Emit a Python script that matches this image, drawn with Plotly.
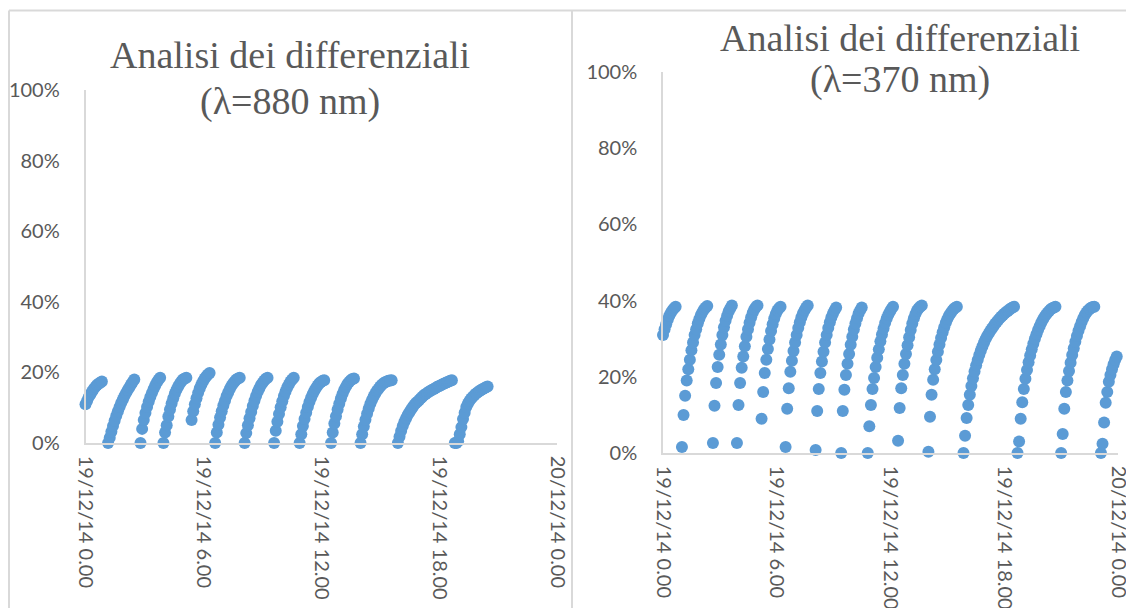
import plotly.graph_objects as go
import pandas as pd

BASE = pd.Timestamp("2014-12-19 00:00")
STEP_MIN = 5  # sampling interval of the instrument (minutes)

# ---- lambda = 880 nm : start minute of each cycle and its values (%)
starts_880 = [0, 69, 168, 238, 324, 396, 486, 576, 654, 750, 840, 954, 1128]
values_880 = [
    [11, 12, 13, 13.8, 14.6, 15.3, 15.9, 16.4, 16.8, 17.1, 17.4],
    [0, 1.5, 3.2, 4.8, 6.3, 7.7, 9, 10.2, 11.3, 12.3, 13.3, 14.2, 15, 15.8, 16.6, 17.3, 18],
    [0, 4, 6.5, 8.5, 10.2, 11.7, 13, 14.2, 15.3, 16.3, 17.2, 17.9, 18.5],
    [0, 3, 5, 7.5, 9.5, 11.2, 12.7, 14, 15.1, 16, 16.8, 17.5, 18, 18.3, 18.5],
    [6.5, 9, 11, 12.7, 14.2, 15.5, 16.6, 17.5, 18.3, 18.9, 19.4, 19.8],
    [0, 3, 5.2, 7.2, 9, 10.6, 12, 13.3, 14.4, 15.4, 16.2, 16.9, 17.5, 18, 18.3, 18.5],
    [0, 2.8, 5, 7, 8.8, 10.5, 12, 13.3, 14.5, 15.5, 16.4, 17.1, 17.7, 18.2, 18.5],
    [0, 3.5, 6, 8.2, 10.1, 11.8, 13.3, 14.6, 15.7, 16.6, 17.4, 18, 18.5],
    [0, 2.5, 4.8, 6.8, 8.6, 10.2, 11.6, 12.8, 13.9, 14.8, 15.6, 16.3, 16.9, 17.3, 17.6, 17.8],
    [0, 3, 5.5, 7.6, 9.5, 11.1, 12.6, 13.9, 15, 15.9, 16.7, 17.3, 17.8, 18.1, 18.3],
    [0, 2.5, 4.7, 6.6, 8.3, 9.8, 11.1, 12.2, 13.2, 14, 14.8, 15.4, 16, 16.5, 16.9, 17.2, 17.4, 17.6, 17.7, 17.8],
    [0, 1.8, 3.4, 4.8, 6, 7, 7.9, 8.7, 9.4, 10.1, 10.8, 11.3, 11.7, 12.2, 12.7, 13.1, 13.6,
     13.9, 14.2, 14.5, 14.8, 15.1, 15.3, 15.6, 15.9, 16.1, 16.3, 16.6, 16.8, 17, 17.2, 17.4, 17.6, 17.8],
    [0, 0, 0.5, 2.5, 4.5, 6.8, 8.6, 10.2, 11.2, 12, 12.6, 13.1, 13.6, 14, 14.4, 14.7, 15, 15.3, 15.5, 15.8, 16],
]

# ---- lambda = 370 nm
starts_370 = [0, 60, 158, 234, 312, 388, 483, 564, 648, 744, 840, 951, 1122, 1260, 1386]
values_370 = [
    [31, 32.5, 33.8, 35, 36, 36.8, 37.5, 38, 38.4],
    [1.6, 10, 15, 19, 22, 24.5, 27, 29, 31, 32.5, 34, 35.2, 36.2, 37, 37.7, 38.2, 38.6],
    [2.6, 12.4, 18.4, 22.6, 25.8, 28.5, 31, 33, 34.7, 36, 37.2, 38, 38.7],
    [2.6, 12.6, 18.4, 22.4, 25.3, 28, 30.5, 32.5, 34.2, 35.6, 36.8, 37.7, 38.3, 38.7],
    [9, 16, 21, 24.5, 27.3, 29.8, 32, 33.8, 35.3, 36.5, 37.4, 38, 38.4],
    [1.6, 11.6, 17, 21.3, 24.2, 26.8, 29, 31, 32.8, 34.3, 35.6, 36.7, 37.5, 38.2, 38.7],
    [0.8, 11, 16.8, 21, 24, 26.6, 29, 31, 32.8, 34.3, 35.6, 36.6, 37.5, 38.2],
    [0, 11, 16.6, 20.5, 23.4, 26, 28.4, 30.5, 32.4, 34, 35.4, 36.6, 37.5, 38.2],
    [0, 7, 12.6, 16.8, 19.7, 22.6, 25, 27.2, 29.3, 31.1, 32.7, 34.1, 35.3, 36.3, 37.1, 37.8, 38.4],
    [3.2, 11.8, 17, 20.5, 23.4, 26, 28.3, 30.4, 32.3, 34, 35.4, 36.5, 37.4, 38, 38.4, 38.7],
    [0.3, 9.5, 15.3, 19.2, 22, 24.4, 26.6, 28.5, 30.2, 31.7, 33, 34.2, 35.2, 36, 36.7, 37.3, 37.8, 38.1, 38.4],
    [0, 4.5, 9.2, 12.6, 15.3, 17.6, 19.6, 21.4, 23, 24.4, 25.7, 26.9, 28, 29, 29.9, 30.7, 31.4,
     32.1, 32.7, 33.3, 33.9, 34.4, 34.9, 35.4, 35.8, 36.2, 36.6, 37, 37.3, 37.6, 37.9, 38.2, 38.4],
    [0, 3, 9, 13.3, 16.8, 19.5, 21.8, 23.8, 25.6, 27.2, 28.7, 30, 31.2, 32.3, 33.3, 34.2, 35, 35.7,
     36.3, 36.8, 37.3, 37.7, 38, 38.2, 38.4],
    [0, 5, 11.6, 16, 19, 21.5, 23.7, 25.7, 27.5, 29.2, 30.7, 32.1, 33.3, 34.4, 35.4, 36.2, 36.9,
     37.4, 37.8, 38.1, 38.3, 38.4],
    [0, 2.4, 8, 13.2, 16, 18.7, 20.5, 22, 23.3, 24.4, 25.3],
]

tick_hours = [0, 6, 12, 18, 24]
tick_text = ["19/12/14 0.00", "19/12/14 6.00", "19/12/14 12.00", "19/12/14 18.00", "20/12/14 0.00"]
title_880 = ["Analisi dei differenziali", "(\u03bb=880 nm)"]
title_370 = ["Analisi dei differenziali", "(\u03bb=370 nm)"]


def build(starts, values):
    xs, ys = [], []
    for s, vals in zip(starts, values):
        for k, v in enumerate(vals):
            xs.append(BASE + pd.Timedelta(minutes=s + STEP_MIN * k))
            ys.append(v / 100.0)
    return xs, ys


W, H = 1134, 608
OFF = 8  # the page body margin shifts the figure by this many pixels
BLUE = "#5B9BD5"
GRAY_TXT = "#595959"
GRAY_LINE = "#D9D9D9"
TICK_FONT = dict(family="Lato", size=20, color=GRAY_TXT)

fig = go.Figure()
x1, y1 = build(starts_880, values_880)
x2, y2 = build(starts_370, values_370)
fig.add_trace(go.Scatter(x=x1, y=y1, mode="markers", xaxis="x", yaxis="y", cliponaxis=False,
                         marker=dict(color=BLUE, size=12, line=dict(width=0))))
fig.add_trace(go.Scatter(x=x2, y=y2, mode="markers", xaxis="x2", yaxis="y2", cliponaxis=False,
                         marker=dict(color=BLUE, size=12, line=dict(width=0))))

tickvals = [BASE + pd.Timedelta(hours=h) for h in tick_hours]
xrange_ = [BASE, BASE + pd.Timedelta(hours=24)]


def xax(domain):
    return dict(domain=domain, type="date", range=xrange_, tickvals=tickvals, ticktext=tick_text,
                tickangle=90, showgrid=False, zeroline=False, showline=True, linecolor=GRAY_LINE,
                linewidth=1.5, ticks="", tickfont=TICK_FONT, ticklabelstandoff=7, automargin=False)


def yax(domain, anchor):
    return dict(domain=domain, anchor=anchor, range=[0, 1], dtick=0.2, tickformat=".0%",
                showgrid=False, zeroline=False, showline=True, linecolor=GRAY_LINE, linewidth=1.5,
                ticks="", tickfont=TICK_FONT, ticklabelstandoff=20, automargin=False)


def px_x(p):
    return (p - OFF) / W


def px_y(p):
    return 1 - (p - OFF) / H


fig.update_layout(
    template="none",
    width=W, height=H, margin=dict(l=0, r=0, t=0, b=0, pad=0), autosize=False,
    paper_bgcolor="white", plot_bgcolor="white", showlegend=False,
    xaxis=dict(xax([px_x(85.5), px_x(557)]), anchor="y"),
    yaxis=yax([px_y(443), px_y(90)], "x"),
    xaxis2=dict(xax([px_x(663), px_x(1118)]), anchor="y2"),
    yaxis2=yax([px_y(453), px_y(72)], "x2"),
)

TITLE_FONT = dict(family="Liberation Serif", size=38, color=GRAY_TXT)
for cx, lines, ys_ in [(290, title_880, (55, 102)), (900, title_370, (38, 79))]:
    for txt, yy in zip(lines, ys_):
        fig.add_annotation(x=px_x(cx), y=px_y(yy), xref="paper", yref="paper", text=txt,
                           showarrow=False, xanchor="center", yanchor="middle", font=TITLE_FONT)

# chart frames
for x0, y0, x1_, y1_ in [(9, 10.5, 1142, 10.5), (9, 10.5, 9, 616), (572, 10.5, 572, 616)]:
    fig.add_shape(type="line", xref="paper", yref="paper", x0=px_x(x0), y0=px_y(y0),
                  x1=px_x(x1_), y1=px_y(y1_), line=dict(color=GRAY_LINE, width=2))

fig.write_html("out.html")
